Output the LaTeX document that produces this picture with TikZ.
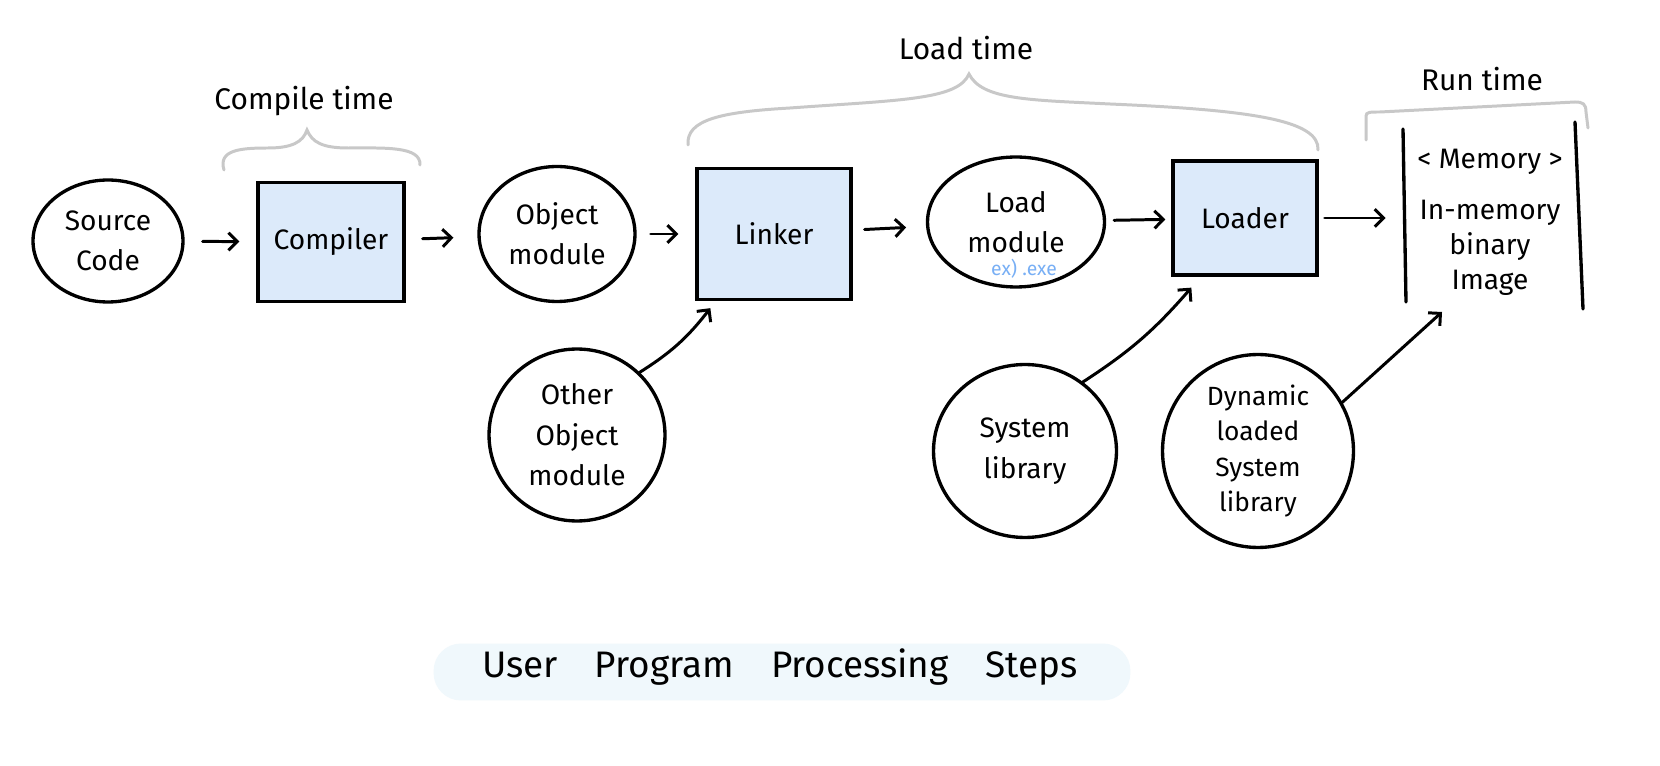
\documentclass[tikz,border=0pt]{standalone}
\usepackage{fontspec}
\setmainfont{Fira Sans}
\usetikzlibrary{shapes.geometric,arrows.meta,calc}
\definecolor{boxblue}{RGB}{220,234,250}
\definecolor{bracegray}{RGB}{200,200,200}
\definecolor{exblue}{RGB}{120,175,245}
\definecolor{titlebg}{RGB}{240,248,252}
\tikzset{
  hand/.style={line width=1.9pt, draw=black},
  circ/.style={hand, ellipse, inner sep=0pt, align=center, font=\fontsize{16}{23}\selectfont},
  procbox/.style={hand, rectangle, fill=boxblue, inner sep=0pt, align=center, font=\fontsize{16}{20}\selectfont},
  arr/.style={line width=1.7pt, line cap=round, -{Straight Barb[length=5pt,width=10pt]}},
  brace/.style={draw=bracegray, line width=1.7pt, line cap=round},
  lbl/.style={font=\fontsize{17}{20}\selectfont},
  memline/.style={line width=1.9pt, line cap=round},
}
\begin{document}
\begin{tikzpicture}[x=0.02cm,y=-0.02cm]
\useasboundingbox (0,0) rectangle (1660,766);
\fill[white] (0,0) rectangle (1660,766);

% title band
\node[fill=titlebg, rounded corners=0.55cm, minimum width=13.94cm, minimum height=1.14cm, inner sep=0pt] (titlebg) at (782,672) {};
\node[font=\fontsize{21}{24}\selectfont] (title) at (780,667) {User\quad Program\quad Processing\quad Steps};

% nodes
\node[circ, minimum width=3.0cm, minimum height=2.44cm] (src) at (108,241) {Source\\Code};
\node[procbox, minimum width=2.92cm, minimum height=2.38cm] (comp) at (331,242) {Compiler};
\node[circ, minimum width=3.12cm, minimum height=2.7cm] (obj) at (557,234) {Object\\module};
\node[procbox, minimum width=3.08cm, minimum height=2.62cm] (link) at (774,234) {Linker};
\node[circ, minimum width=3.54cm, minimum height=2.6cm] (load) at (1016,222) {Load\\module};
\node[font=\fontsize{11}{13}\selectfont, text=exblue] (ex) at (1024,269) {ex) .exe};
\node[procbox, minimum width=2.88cm, minimum height=2.28cm] (loader) at (1245,218) {Loader};
\node[circ, minimum width=3.52cm, minimum height=3.44cm] (other) at (577,435) {Other\\Object\\module};
\node[circ, minimum width=3.66cm, minimum height=3.46cm] (sys) at (1025,451) {System\\library};
\node[circ, minimum width=3.82cm, minimum height=3.86cm, font=\fontsize{15}{20}\selectfont] (dyn) at (1258,451) {Dynamic\\loaded\\System\\library};

% memory
\node[align=center, inner sep=0pt, minimum width=3.44cm, font=\fontsize{16}{20}\selectfont] (mem) at (1490,222) {< Memory >\\[9pt]In-memory\\binary\\Image};
\draw[memline] (1403,129) -- (1406,302);
\draw[memline] (1575,122) -- (1583,309);
\coordinate (memin) at (1442,312);

% labels
\node[lbl] (ct) at (304,101) {Compile time};
\node[lbl] (lt) at (966,48) {Load time};
\node[lbl] (rt) at (1482,79) {Run time};

% braces
\draw[brace] (224,170) .. controls (218,150) and (240,148) .. (268,148)
  .. controls (292,148) and (303,142) .. (307,130)
  .. controls (312,142) and (322,148) .. (348,148)
  .. controls (385,148) and (421,146) .. (420,165);
\draw[brace] (688,145) .. controls (686,120) and (720,112) .. (790,108)
  .. controls (900,100) and (958,100) .. (969,74)
  .. controls (982,100) and (1030,100) .. (1110,104)
  .. controls (1250,110) and (1320,120) .. (1318,150);
\draw[brace] (1366,140) -- (1366,116) .. controls (1366,112) and (1370,112) .. (1380,112)
  -- (1575,102) .. controls (1583,102) and (1586,104) .. (1586,112) -- (1588,128);

% arrows
\draw[arr, shorten <=0.36cm, shorten >=0.34cm] (src) -- (comp);
\draw[arr, shorten <=0.34cm, shorten >=0.48cm] (comp) -- (obj);
\draw[arr, shorten <=0.28cm, shorten >=0.34cm] (obj) -- (link);
\draw[arr, shorten <=0.24cm, shorten >=0.40cm] (link) -- (load);
\draw[arr, shorten <=0.16cm, shorten >=0.12cm] (load) -- (loader);
\draw[arr, shorten <=0.12cm, shorten >=0.36cm] (loader.east) -- (loader.east -| mem.west);
\draw[arr] (other.45) to[bend right=10] ($(link.south west)+(0.3cm,-0.14cm)$);
\draw[arr] (sys.50) to[bend right=8] ($(loader.south west)+(0.4cm,-0.22cm)$);
\draw[arr] (dyn.30) -- (memin);
\end{tikzpicture}
\end{document}
